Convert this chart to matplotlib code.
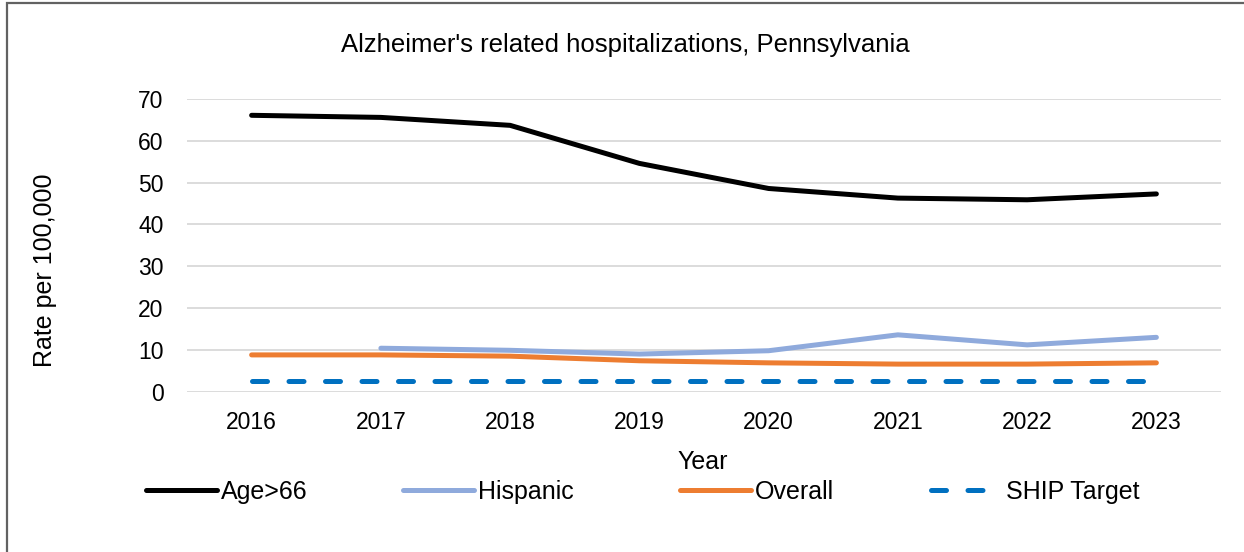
import matplotlib
matplotlib.use("Agg")
import matplotlib.pyplot as plt
from matplotlib.patches import Rectangle
import numpy as np

plt.rcParams['font.family'] = ['Liberation Sans', 'DejaVu Sans']

years = ["2016", "2017", "2018", "2019", "2020", "2021", "2022", "2023"]
age66 = [66.1, 65.6, 63.7, 54.6, 48.6, 46.3, 45.9, 47.3]
hispanic = [None, 10.4, 9.9, 9.0, 9.8, 13.6, 11.2, 13.0]
overall = [8.8, 8.8, 8.5, 7.4, 6.9, 6.6, 6.6, 6.9]
ship_target = [2.5, 2.5, 2.5, 2.5, 2.5, 2.5, 2.5, 2.5]

W, H = 1244, 552
fig = plt.figure(figsize=(W / 100, H / 100), dpi=100)

# outer border (left & top visible)
fig.add_artist(Rectangle((7 / W, -0.1), 1.2, 1 - 3 / H + 0.1, transform=fig.transFigure,
                         fill=False, edgecolor='#626262', linewidth=1.6))

ax = fig.add_axes([187 / W, 1 - 391.7 / H, (1221 - 187) / W, (391.7 - 99) / H])
x = np.arange(len(years))

lw = 3.6
ax.plot(x, age66, color='black', lw=lw, solid_capstyle='round', label='Age>66', zorder=4)
hx = [i for i, v in enumerate(hispanic) if v is not None]
hv = [v for v in hispanic if v is not None]
ax.plot(hx, hv, color='#8faadc', lw=lw, solid_capstyle='round', label='Hispanic', zorder=3)
ax.plot(x, overall, color='#ed7d31', lw=lw, solid_capstyle='round', label='Overall', zorder=3)
ax.plot(x, ship_target, color='#0070c0', lw=lw, dash_capstyle='round',
        dashes=(3.0, 4.3), label='SHIP Target', zorder=3)

ax.set_xlim(-0.5, len(years) - 0.5)
ax.set_ylim(0, 70)
ax.set_yticks(range(0, 71, 10))
ax.set_xticks(x)
ax.set_xticklabels(years)
ax.grid(axis='y', color='#d9d9d9', lw=1.3)
ax.set_axisbelow(True)
for s in ax.spines.values():
    s.set_visible(False)
ax.tick_params(axis='both', length=0, labelsize=16.5, colors='#000000')
ax.tick_params(axis='y', pad=17)
ax.tick_params(axis='x', pad=14)

fig.text(625 / W, 1 - 45 / H, "Alzheimer's related hospitalizations, Pennsylvania",
         ha='center', va='center', fontsize=18.5)
fig.text(45 / W, 1 - 270 / H, "Rate per 100,000", rotation=90, ha='center', va='center',
         fontsize=18)
fig.text(703 / W, 1 - 462 / H, "Year", ha='center', va='center', fontsize=18)

handles, labels = ax.get_legend_handles_labels()
starts = [146, 403, 680, 931]
for h, l, sx in zip(handles, labels, starts):
    fig.legend([h], [l], loc='center left', bbox_to_anchor=(sx / W, 1 - 492 / H),
               frameon=False, fontsize=18, handlelength=2.85, handletextpad=0.15,
               borderaxespad=0, borderpad=0)

fig.savefig("out.png", dpi=100)
